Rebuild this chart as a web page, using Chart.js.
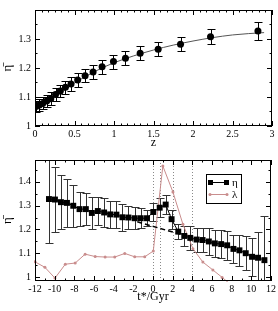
<!DOCTYPE html>
<html>
<head>
<meta charset="utf-8">
<script src="https://cdn.jsdelivr.net/npm/chart.js@4.4.1/dist/chart.umd.min.js"></script>
<style>
  html, body { margin: 0; padding: 0; background: #fff; }
  #wrap { position: relative; width: 278px; height: 311px; }
  .panel { position: absolute; left: 0; }
  #top { top: 0; }
  #bottom { top: 150px; }
</style>
</head>
<body>
<div id="wrap">
  <div class="panel" id="top"><canvas id="c1" width="278" height="150"></canvas></div>
  <div class="panel" id="bottom"><canvas id="c2" width="278" height="161"></canvas></div>
</div>
<script>
// --- top panel: eta vs z ---
const zVals = [0.013, 0.055, 0.097, 0.148, 0.20, 0.26, 0.32, 0.385, 0.456, 0.54,
               0.634, 0.735, 0.849, 0.993, 1.145, 1.331, 1.559, 1.842, 2.222, 2.822];
const zEta  = [1.0675, 1.072, 1.078, 1.086, 1.094, 1.109, 1.121, 1.134, 1.145, 1.159,
               1.173, 1.186, 1.204, 1.222, 1.234, 1.251, 1.265, 1.282, 1.308, 1.328];
const zErr  = [0.02, 0.021, 0.021, 0.022, 0.022, 0.022, 0.022, 0.022, 0.023, 0.023,
               0.023, 0.023, 0.024, 0.024, 0.024, 0.024, 0.024, 0.025, 0.026, 0.031];
const fitZ   = [0, 0.1, 0.25, 0.5, 0.75, 1, 1.5, 2, 2.5, 2.9];
const fitEta = [1.064, 1.077, 1.099, 1.148, 1.187, 1.218, 1.262, 1.293, 1.314, 1.322];
const zTicks    = [0, 0.5, 1, 1.5, 2, 2.5, 3];
const zEtaTicks = [1, 1.1, 1.2, 1.3];

// --- bottom panel: eta and lambda vs t* ---
const tVals = [-10.58, -9.97, -9.36, -8.75, -8.11, -7.47, -6.83, -6.22, -5.61, -4.97,
               -4.36, -3.72, -3.11, -2.50, -1.86, -1.25, -0.61, 0.03, 0.68, 1.29,
               1.89, 2.57, 3.18, 3.79, 4.43, 5.04, 5.68, 6.29, 6.93, 7.54,
               8.18, 8.79, 9.43, 10.07, 10.68, 11.33];
const tEta  = [1.327, 1.325, 1.314, 1.311, 1.299, 1.285, 1.285, 1.269, 1.277, 1.271,
               1.263, 1.262, 1.251, 1.250, 1.247, 1.247, 1.247, 1.273, 1.291, 1.304,
               1.243, 1.191, 1.173, 1.165, 1.158, 1.156, 1.150, 1.142, 1.139, 1.134,
               1.119, 1.113, 1.101, 1.086, 1.082, 1.072];
const tErr  = [0.184, 0.137, 0.113, 0.10, 0.087, 0.072, 0.067, 0.065, 0.06, 0.06,
               0.057, 0.056, 0.056, 0.05, 0.046, 0.041, 0.033, 0.037, 0.04, 0.04,
               0.04, 0.03, 0.04, 0.05, 0.05, 0.052, 0.055, 0.057, 0.058, 0.06,
               0.06, 0.065, 0.07, 0.08, 0.106, 0.184];
const lamT    = [-12, -10.99, -9.97, -8.92, -7.91, -6.9, -5.88, -4.87, -3.89, -2.87,
                 -1.86, -0.84, 0.03, 1.0, 2.03, 3.04, 4.06, 5.07, 6.09, 7.03, 8.05];
const lamVals = [1.065, 1.042, 0.997, 1.055, 1.06, 1.097, 1.087, 1.085, 1.085, 1.1,
                 1.086, 1.086, 1.11, 1.465, 1.356, 1.222, 1.12, 1.064, 1.031, 1.0, 0.965];
const dashT   = [-1.6, 3.3];
const dashEta = [1.232, 1.174];
const markT   = [0, 0.7, 2, 4];
const tTicks    = [-12, -10, -8, -6, -4, -2, 0, 2, 4, 6, 8, 10, 12];
const tEtaTicks = [1, 1.1, 1.2, 1.3, 1.4];

const pink = '#c98d8d';
const serif = '"Liberation Serif", "DejaVu Serif", serif';
Chart.defaults.font.family = serif;
Chart.defaults.color = '#000';

const pts = (xs, ys) => xs.map((x, i) => ({ x: x, y: ys[i] }));

// frame + inward ticks on all four sides
const frameTicks = {
    id: 'frameTicks',
    afterDraw(chart, args, opts) {
        const { ctx, chartArea: a, scales: { x, y } } = chart;
        ctx.save();
        ctx.strokeStyle = '#000';
        ctx.lineWidth = 1;
        ctx.strokeRect(Math.round(a.left) + 0.5, Math.round(a.top) + 0.5,
                       Math.round(a.width) - 1, Math.round(a.height) - 1);
        const marks = (scale, step, len) => {
            const vals = [];
            if (step) {
                for (let i = Math.ceil(scale.min / step - 1e-6); i * step <= scale.max + 1e-6; i++) vals.push(i * step);
            } else {
                scale.ticks.forEach(t => vals.push(t.value));
            }
            ctx.beginPath();
            vals.forEach(v => {
                const p = Math.round(scale.getPixelForValue(v)) + 0.5;
                if (scale.axis === 'x') {
                    ctx.moveTo(p, a.bottom); ctx.lineTo(p, a.bottom - len);
                    ctx.moveTo(p, a.top); ctx.lineTo(p, a.top + len);
                } else {
                    ctx.moveTo(a.left, p); ctx.lineTo(a.left + len, p);
                    ctx.moveTo(a.right, p); ctx.lineTo(a.right - len, p);
                }
            });
            ctx.stroke();
        };
        marks(x, opts.xMinor, 2.5);
        marks(y, opts.yMinor, 2.5);
        marks(x, 0, 5);
        marks(y, 0, 5);
        ctx.restore();
    }
};

// vertical error bars from dataset.errors
const errorBars = {
    id: 'errorBars',
    beforeDatasetsDraw(chart) {
        const { ctx, chartArea: a, scales: { x, y } } = chart;
        ctx.save();
        ctx.beginPath();
        ctx.rect(a.left, a.top, a.width, a.height);
        ctx.clip();
        chart.data.datasets.forEach(ds => {
            if (!ds.errors) return;
            ctx.strokeStyle = ds.errorColor || '#000';
            ctx.lineWidth = 1;
            ds.data.forEach((p, i) => {
                const px = Math.round(x.getPixelForValue(p.x)) + 0.5;
                const y1 = Math.round(y.getPixelForValue(p.y - ds.errors[i])) + 0.5;
                const y2 = Math.round(y.getPixelForValue(p.y + ds.errors[i])) + 0.5;
                ctx.beginPath();
                ctx.moveTo(px, y1); ctx.lineTo(px, y2);
                ctx.moveTo(px - 4, y1); ctx.lineTo(px + 4, y1);
                ctx.moveTo(px - 4, y2); ctx.lineTo(px + 4, y2);
                ctx.stroke();
            });
        });
        ctx.restore();
    }
};

// dotted vertical markers
const vMarks = {
    id: 'vMarks',
    beforeDatasetsDraw(chart) {
        const { ctx, chartArea: a, scales: { x } } = chart;
        ctx.save();
        ctx.strokeStyle = '#8a8a8a';
        ctx.lineWidth = 1;
        ctx.setLineDash([1, 2]);
        markT.forEach(t => {
            const px = Math.round(x.getPixelForValue(t)) + 0.5;
            ctx.beginPath();
            ctx.moveTo(px, a.top); ctx.lineTo(px, a.bottom);
            ctx.stroke();
        });
        ctx.restore();
    }
};

// boxed legend inside the plot
const boxLegend = {
    id: 'boxLegend',
    afterDraw(chart) {
        const { ctx, chartArea: a } = chart;
        const left = a.right - 65, top = a.top + 14;
        ctx.save();
        ctx.strokeStyle = '#000';
        ctx.lineWidth = 1;
        ctx.strokeRect(left + 0.5, top + 0.5, 35, 29);
        // eta entry
        ctx.beginPath();
        ctx.moveTo(left + 4, top + 8.5); ctx.lineTo(left + 21, top + 8.5);
        ctx.stroke();
        ctx.fillStyle = '#000';
        ctx.fillRect(left + 2, top + 6, 5, 5);
        ctx.fillRect(left + 18, top + 6, 5, 5);
        // lambda entry
        ctx.strokeStyle = pink;
        ctx.fillStyle = pink;
        ctx.beginPath();
        ctx.moveTo(left + 4, top + 20.5); ctx.lineTo(left + 21, top + 20.5);
        ctx.stroke();
        [left + 4, left + 21].forEach(cx => {
            ctx.beginPath();
            ctx.arc(cx, top + 20.5, 1.5, 0, Math.PI * 2);
            ctx.fill();
        });
        ctx.fillStyle = '#000';
        ctx.font = '11px ' + serif;
        ctx.textBaseline = 'middle';
        ctx.fillText('\u03B7', left + 26, top + 9);
        ctx.fillText('\u03BB', left + 26, top + 21);
        ctx.restore();
    }
};

function axes(xMin, xMax, xTicks, xTitle, yMin, yMax, yTicks, xHeight, titlePad) {
    return {
        x: {
            type: 'linear', min: xMin, max: xMax,
            grid: { display: false, drawTicks: false }, border: { display: false },
            afterBuildTicks: s => { s.ticks = xTicks.map(v => ({ value: v })); },
            afterFit: s => { s.height = xHeight; },
            ticks: { font: { size: 10 }, padding: 2, maxRotation: 0, autoSkip: false, callback: v => String(v) },
            title: { display: true, text: xTitle, font: { size: 12 }, padding: { top: 0, bottom: titlePad } }
        },
        y: {
            type: 'linear', min: yMin, max: yMax,
            grid: { display: false, drawTicks: false }, border: { display: false },
            afterBuildTicks: s => { s.ticks = yTicks.map(v => ({ value: v })); },
            afterFit: s => { s.width = 35; },
            ticks: { font: { size: 10 }, padding: 4, autoSkip: false, callback: v => String(v) },
            title: { display: true, text: '\u03B7\u0304', font: { size: 13 }, padding: 0 }
        }
    };
}

new Chart(document.getElementById('c1'), {
    type: 'line',
    data: {
        datasets: [{
            data: pts(zVals, zEta),
            errors: zErr,
            showLine: false,
            pointRadius: 3.5,
            pointBackgroundColor: '#000',
            pointBorderColor: '#000',
            pointBorderWidth: 0
        }, {
            data: pts(fitZ, fitEta),
            borderColor: '#555',
            borderWidth: 1,
            pointRadius: 0,
            tension: 0.4,
            cubicInterpolationMode: 'monotone'
        }]
    },
    options: {
        responsive: false,
        animation: false,
        events: [],
        layout: { padding: { top: 2, right: 6, left: 0, bottom: 0 } },
        plugins: { legend: { display: false }, tooltip: { enabled: false },
                   frameTicks: { xMinor: 0.5 / 6, yMinor: 0.05 } },
        scales: axes(0, 3, zTicks, 'z', 1, 1.4, zEtaTicks, 24, 0)
    },
    plugins: [errorBars, frameTicks]
});

new Chart(document.getElementById('c2'), {
    type: 'line',
    data: {
        datasets: [{
            data: pts(tVals, tEta),
            errors: tErr,
            errorColor: '#333',
            borderColor: '#000',
            borderWidth: 1,
            pointStyle: 'rect',
            pointRadius: 4.2,
            pointBackgroundColor: '#000',
            pointBorderWidth: 0,
            tension: 0
        }, {
            data: pts(dashT, dashEta),
            borderColor: '#000',
            borderWidth: 1.5,
            borderDash: [5, 3],
            pointRadius: 0
        }, {
            data: pts(lamT, lamVals),
            borderColor: pink,
            borderWidth: 1,
            pointRadius: 1.5,
            pointBackgroundColor: pink,
            pointBorderWidth: 0,
            clip: 1
        }]
    },
    options: {
        responsive: false,
        animation: false,
        events: [],
        layout: { padding: { top: 8, right: 6, left: 0, bottom: 0 } },
        plugins: { legend: { display: false }, tooltip: { enabled: false },
                   frameTicks: { xMinor: 1, yMinor: 0.05 } },
        scales: axes(-12, 12, tTicks, 't*/Gyr', 0.985, 1.49, tEtaTicks, 30, 7)
    },
    plugins: [vMarks, errorBars, frameTicks, boxLegend]
});
</script>
</body>
</html>
